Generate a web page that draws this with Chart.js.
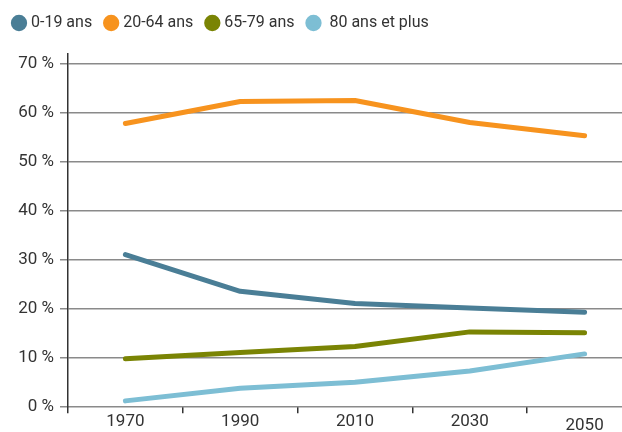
<!DOCTYPE html>
<html>
<head>
<meta charset="utf-8">
<script src="https://cdn.jsdelivr.net/npm/chart.js@4"></script>
<style>
  html, body { margin: 0; padding: 0; background: #fff; overflow: hidden; }
  .wrap { position: relative; width: 642px; height: 439px; }
</style>
</head>
<body>
<div class="wrap"><canvas id="chart"></canvas></div>
<script>
// données (part de la population, en %)
const years = ['1970', '1990', '2010', '2030', '2050'];
const age0_19 = [31.0, 23.5, 21.0, 20.1, 19.2];
const age20_64 = [57.8, 62.3, 62.5, 58.0, 55.3];
const age65_79 = [9.7, 11.0, 12.2, 15.2, 15.0];
const age80plus = [1.1, 3.7, 4.9, 7.2, 10.7];
const yTicks = [0, 10, 20, 30, 40, 50, 60, 70];

const txt = '#333333';
const fontFam = 'Roboto, "Noto Sans", sans-serif';

function serie(label, values, color) {
  return {
    label: label,
    data: values,
    borderColor: color,
    backgroundColor: color,
    borderWidth: 5,
    borderCapStyle: 'round',
    borderJoinStyle: 'round',
    pointRadius: 0,
    tension: 0
  };
}

// un peu d'espace sous la légende
const legendGap = {
  id: 'legendGap',
  beforeInit(chart) {
    const fit = chart.legend.fit;
    chart.legend.fit = function () {
      fit.bind(chart.legend)();
      this.height += 13;
    };
  }
};

new Chart(document.getElementById('chart'), {
  type: 'line',
  plugins: [legendGap],
  data: {
    labels: years,
    datasets: [
      serie('0-19 ans', age0_19, '#4a7e96'),
      serie('20-64 ans', age20_64, '#f7931e'),
      serie('65-79 ans', age65_79, '#7a8404'),
      serie(' 80 ans et plus', age80plus, '#7dbed4')
    ]
  },
  options: {
    responsive: true,
    maintainAspectRatio: false,
    animation: false,
    layout: { padding: { left: 0, top: 0, right: 0, bottom: 0 } },
    plugins: {
      tooltip: { enabled: false },
      legend: {
        position: 'top',
        align: 'start',
        labels: {
          usePointStyle: true,
          pointStyle: 'circle',
          boxWidth: 8,
          boxHeight: 8,
          padding: 15,
          color: txt,
          font: { family: fontFam, size: 16 }
        }
      }
    },
    scales: {
      x: {
        type: 'category',
        offset: true,
        border: { display: false },
        grid: {
          offset: true,
          drawOnChartArea: false,
          drawTicks: true,
          tickLength: 7,
          color: '#333',
          lineWidth: 1.5
        },
        ticks: {
          color: txt,
          padding: -2,
          maxRotation: 0,
          autoSkip: false,
          // 2050 un peu plus bas, comme l'original
          font: (ctx) => ({ family: fontFam, size: 17, lineHeight: ctx.index === 4 ? 1.75 : 1.2 })
        }
      },
      y: {
        min: 0,
        max: 72,
        afterBuildTicks: (axis) => { axis.ticks = yTicks.map(v => ({ value: v })); },
        afterFit: (axis) => { axis.width = 68; },
        border: { display: true, color: '#333', width: 1.5 },
        grid: {
          color: '#8a8a8a',
          lineWidth: 1.5,
          tickLength: 8
        },
        ticks: {
          color: txt,
          padding: 6,
          font: { family: fontFam, size: 17 },
          callback: (v) => v + ' %'
        }
      }
    }
  }
});
</script>
</body>
</html>
